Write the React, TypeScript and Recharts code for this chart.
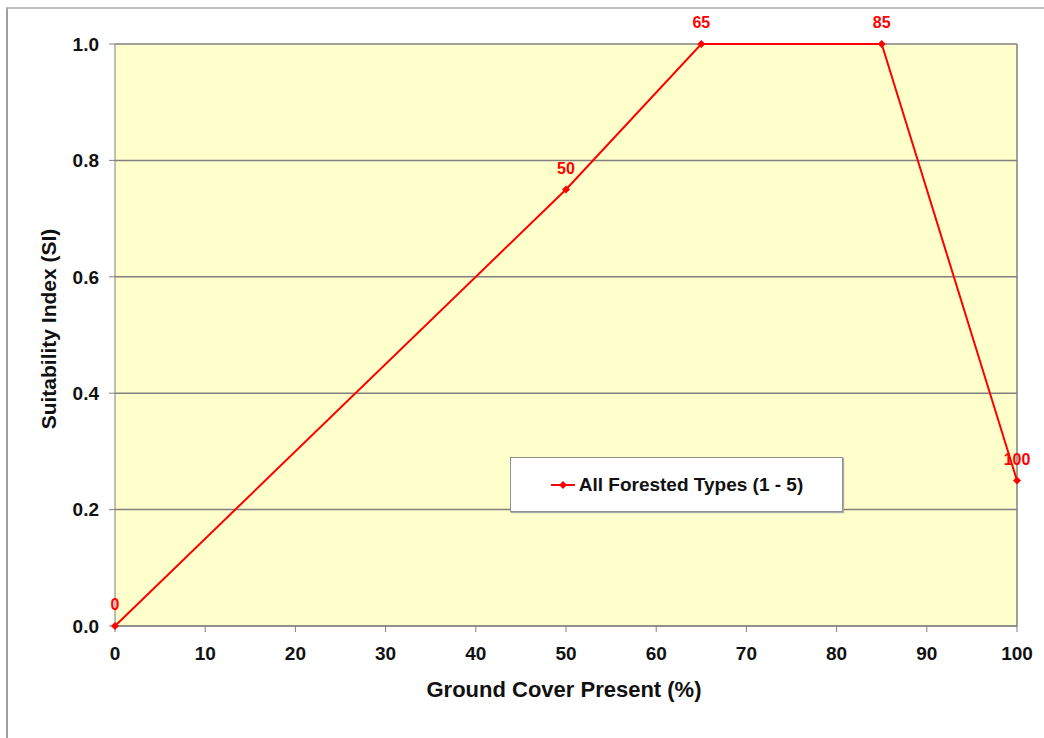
import { CartesianGrid, LabelList, Line, LineChart, ReferenceLine, XAxis, YAxis } from "recharts";

const groundCover = [0, 50, 65, 85, 100];
const suitability = [0, 0.75, 1, 1, 0.25];
const xTicks = [0, 10, 20, 30, 40, 50, 60, 70, 80, 90, 100];
const yTicks = [0, 0.2, 0.4, 0.6, 0.8, 1];

const SERIES_NAME = "All Forested Types (1 - 5)";
const RED = "#FF0000";
const GRAY = "#808080";
const FONT = "'Liberation Sans', Arial, sans-serif";

const data = groundCover.map((x, i) => ({ x, si: suitability[i] }));

function Diamond(props: any) {
  const { cx, cy } = props;
  if (cx == null || cy == null) return null;
  const r = 4;
  return <polygon points={`${cx},${cy - r} ${cx + r},${cy} ${cx},${cy + r} ${cx - r},${cy}`} fill={RED} />;
}

function LegendBox() {
  return (
    <div
      style={{
        position: "absolute",
        left: 510,
        top: 457,
        width: 331,
        height: 53,
        background: "#fff",
        border: "1px solid #909090",
        boxShadow: "1px 1px 1px #aaa",
        display: "flex",
        alignItems: "center",
        justifyContent: "center",
        fontFamily: FONT,
        fontWeight: "bold",
        fontSize: 19,
        color: "#111",
      }}
    >
      <svg width={26} height={10} style={{ marginRight: 3 }}>
        <line x1={1} y1={5} x2={25} y2={5} stroke={RED} strokeWidth={2} />
        <polygon points="13,1 17,5 13,9 9,5" fill={RED} />
      </svg>
      {SERIES_NAME}
    </div>
  );
}

export default function App() {
  return (
    <div style={{ position: "fixed", left: 0, top: 0, width: 1044, height: 738, background: "#fff" }}>
      <div
        style={{
          position: "absolute",
          left: 6,
          top: 7,
          width: 1060,
          height: 760,
          borderLeft: "2px solid #a0a0a0",
          borderTop: "2px solid #c0c0c0",
        }}
      />
      <div style={{ position: "absolute", left: 0, top: 0 }}>
        <LineChart width={1044} height={738} data={data} margin={{ top: 44, right: 27, bottom: 82, left: 55 }}>
          <CartesianGrid vertical={false} stroke={GRAY} strokeWidth={1.5} fill="#FFFFCC" />
          <XAxis
            dataKey="x"
            type="number"
            domain={[0, 100]}
            ticks={xTicks}
            interval={0}
            height={30}
            stroke={GRAY}
            tickSize={6}
            tickMargin={15}
            tick={{ fill: "#111", fontSize: 19, fontWeight: "bold", fontFamily: FONT }}
          />
          <YAxis
            type="number"
            domain={[0, 1]}
            ticks={yTicks}
            interval={0}
            width={60}
            stroke={GRAY}
            tickSize={6}
            tickMargin={10}
            tickFormatter={(v: number) => v.toFixed(1)}
            tick={{ fill: "#111", fontSize: 19, fontWeight: "bold", fontFamily: FONT }}
          />
          <ReferenceLine x={100} stroke={GRAY} strokeWidth={1.5} />
          <Line
            type="linear"
            dataKey="si"
            name={SERIES_NAME}
            stroke={RED}
            strokeWidth={2}
            dot={<Diamond />}
            activeDot={false}
            isAnimationActive={false}
          >
            <LabelList
              dataKey="x"
              position="top"
              offset={16}
              fill={RED}
              fontSize={16}
              fontWeight="bold"
              fontFamily={FONT}
            />
          </Line>
        </LineChart>
        <LegendBox />
        <div
          style={{
            position: "absolute",
            left: 364,
            top: 677,
            width: 400,
            textAlign: "center",
            fontFamily: FONT,
            fontWeight: "bold",
            fontSize: 22,
            color: "#111",
          }}
        >
          Ground Cover Present (%)
        </div>
        <div
          style={{
            position: "absolute",
            left: 49 - 150,
            top: 329 - 13,
            width: 300,
            height: 26,
            lineHeight: "26px",
            textAlign: "center",
            transform: "rotate(-90deg)",
            fontFamily: FONT,
            fontWeight: "bold",
            fontSize: 21,
            color: "#111",
          }}
        >
          Suitability Index (SI)
        </div>
      </div>
    </div>
  );
}
